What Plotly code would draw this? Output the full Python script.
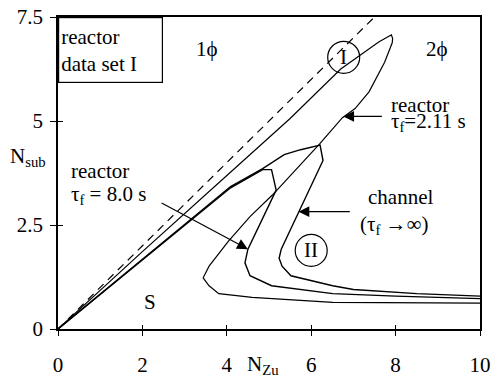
import plotly.graph_objects as go

# Stability boundaries in the N_Zu - N_sub plane
# dashed line: N_sub = N_Zu
line_x = [0, 7.5]
line_y = [0, 7.5]

# reactor, tau_f = 2.11 s
r211_x = [0, 2.0, 4.1, 5.5, 6.7, 7.27, 7.6, 7.83, 7.9, 7.93, 7.92, 7.74, 7.37, 7.04,
          6.74, 6.2, 5.08, 4.55, 4.04, 3.58, 3.44, 3.58, 3.81, 4.60, 6.51, 10.0]
r211_y = [0, 1.86, 3.78, 5.06, 6.25, 6.67, 6.9, 7.03, 7.07, 6.98, 6.88, 6.41, 5.70, 5.30,
          5.08, 4.45, 3.22, 2.70, 2.11, 1.51, 1.23, 1.04, 0.85, 0.76, 0.64, 0.62]

# reactor, tau_f = 8.0 s
r80_x = [0, 2.0, 4.09, 4.85, 5.06, 5.17, 4.50, 4.43, 4.55, 5.06, 6.51, 8.0, 10.0]
r80_y = [0, 1.65, 3.395, 3.83, 3.83, 3.34, 1.92, 1.59, 1.28, 1.04, 0.85, 0.79, 0.73]

# channel, tau_f -> infinity
ch_x = [0, 2.0, 4.09, 4.85, 5.36, 5.75, 6.12, 6.21, 6.28, 5.70, 5.29, 5.24, 5.31, 5.52,
        5.98, 6.51, 7.0, 8.5, 10.0]
ch_y = [0, 1.67, 3.425, 3.855, 4.19, 4.31, 4.40, 4.42, 4.05, 2.82, 1.92, 1.70, 1.51, 1.28,
        1.16, 1.04, 0.95, 0.85, 0.79]

x_ticks = [0, 2, 4, 6, 8, 10]
y_ticks = [0, 2.5, 5, 7.5]
y_ticktext = ["0", "2.5", "5", "7.5"]

FONT = "Liberation Serif, Times New Roman, serif"
FS = 21
INK = "black"

fig = go.Figure()
fig.add_trace(go.Scatter(x=line_x, y=line_y, mode="lines",
                         line=dict(color=INK, width=1.2, dash="8px,6px")))
fig.add_trace(go.Scatter(x=r211_x, y=r211_y, mode="lines",
                         line=dict(color=INK, width=1.2)))
fig.add_trace(go.Scatter(x=r80_x, y=r80_y, mode="lines",
                         line=dict(color=INK, width=1.4)))
fig.add_trace(go.Scatter(x=ch_x, y=ch_y, mode="lines",
                         line=dict(color=INK, width=1.4)))
# carrier for the inner tick marks
fig.add_trace(go.Scatter(x=[], y=[], xaxis="x2", yaxis="y2", mode="lines"))

txt = dict(family=FONT, size=FS, color=INK)


def label(text, x, y, xanchor="center", yanchor="middle", size=FS):
    fig.add_annotation(text=text, x=x, y=y, xref="x", yref="y", showarrow=False,
                       xanchor=xanchor, yanchor=yanchor,
                       font=dict(family=FONT, size=size, color=INK))


def arrow(x, y, ax, ay):
    fig.add_annotation(text="", x=x, y=y, ax=ax, ay=ay, xref="x", yref="y",
                       axref="x", ayref="y", showarrow=True, arrowhead=2,
                       arrowsize=1.8, arrowwidth=1.2, arrowcolor=INK)


label("1\u03d5", 3.53, 6.72)
label("2\u03d5", 8.98, 6.72)
label("I", 6.77, 6.53)
label("II", 6.00, 1.89)
label("S", 2.17, 0.64)
label("reactor", 7.84, 5.39, xanchor="left")
label("\u03c4<sub>f</sub>=2.11 s", 7.84, 4.98, xanchor="left")
label("reactor", 0.25, 3.79, xanchor="left")
label("\u03c4<sub>f</sub> = 8.0 s", 0.27, 3.22, xanchor="left")
label("channel", 7.3, 3.17, xanchor="left")
label("(\u03c4<sub>f</sub> \u2192\u221e)", 7.12, 2.50, xanchor="left")

arrow(6.76, 5.11, 7.71, 5.11)
arrow(4.50, 1.92, 2.42, 3.05)
arrow(5.70, 2.82, 6.95, 2.82)

for cx, cy in [(6.77, 6.53), (6.00, 1.89)]:
    fig.add_shape(type="circle", xref="x", yref="y", xsizemode="pixel", ysizemode="pixel",
                  xanchor=cx, yanchor=cy, x0=-16, x1=16, y0=-16, y1=16,
                  line=dict(color=INK, width=1.2))

# boxed data-set caption
fig.add_annotation(text="reactor<br>data set I", xref="paper", yref="paper", x=0, y=1,
                   xanchor="left", yanchor="top", showarrow=False, align="left",
                   width=99, height=60, borderpad=2, borderwidth=1.2, bordercolor=INK,
                   font=txt)

# axis titles
fig.add_annotation(text="N<sub>sub</sub>", xref="paper", yref="paper", x=-0.072, y=0.55,
                   xanchor="center", yanchor="middle", showarrow=False,
                   font=dict(family=FONT, size=21, color=INK))
fig.add_annotation(text="N<sub>Zu</sub>", xref="paper", yref="paper", x=0.485, y=-0.114,
                   xanchor="center", yanchor="middle", showarrow=False,
                   font=dict(family=FONT, size=21, color=INK))

axis_common = dict(showgrid=False, zeroline=False, color=INK)
fig.update_layout(
    width=494, height=380,
    margin=dict(l=58, r=3, t=17, b=46),
    paper_bgcolor="white", plot_bgcolor="white",
    showlegend=False,
    xaxis=dict(range=[0, 10], tickvals=x_ticks, ticks="outside", ticklen=5, tickwidth=1.2,
               showline=True, linewidth=1.5, linecolor=INK, mirror=True,
               tickfont=txt, ticklabelstandoff=11, ticklabeloverflow="allow",
               **axis_common),
    yaxis=dict(range=[0, 7.5], tickvals=y_ticks, ticktext=y_ticktext, ticks="outside",
               ticklen=6, tickwidth=1.2, showline=True, linewidth=1.5, linecolor=INK,
               mirror=True, tickfont=txt, ticklabelstandoff=3, ticklabeloverflow="allow",
               **axis_common),
    xaxis2=dict(range=[0, 10], tickvals=x_ticks, ticks="inside", ticklen=4, tickwidth=1.2,
                overlaying="x", anchor="y", side="bottom", showticklabels=False,
                showline=False, **axis_common),
    yaxis2=dict(range=[0, 7.5], tickvals=y_ticks, ticks="inside", ticklen=5, tickwidth=1.2,
                overlaying="y", anchor="x", side="left", showticklabels=False,
                showline=False, **axis_common),
)

fig.write_html("out.html")
